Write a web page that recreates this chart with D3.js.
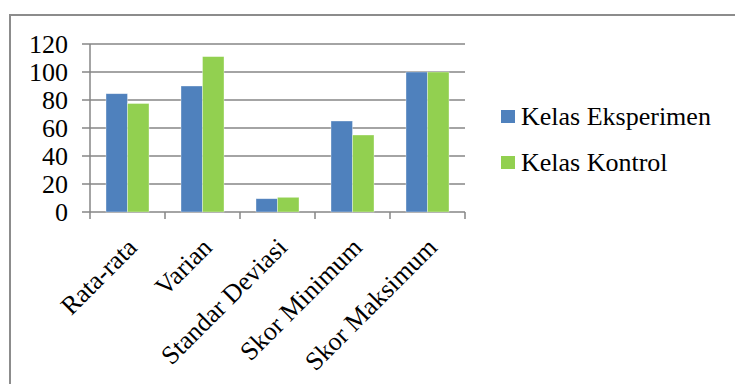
<!DOCTYPE html>
<html><head><meta charset="utf-8">
<script src="https://cdn.jsdelivr.net/npm/d3@7"></script>
</head><body style="margin:0">
<svg id="c" width="735" height="384"></svg>
<script>
const categories = ["Rata-rata","Varian","Standar Deviasi","Skor Minimum","Skor Maksimum"];
const seriesNames = ["Kelas Eksperimen","Kelas Kontrol"];
const eksperimen = [84.5, 90, 9.5, 65, 100];
const kontrol = [77.5, 111, 10.5, 55, 100];
const yTicks = [0,20,40,60,80,100,120];
const colors = ["#4F81BD","#92D050"];

const FAM = "'Liberation Serif', 'Times New Roman', serif";
const FS = 26;
const cv = document.createElement("canvas").getContext("2d");
cv.font = FS + "px 'Liberation Serif'";
cv.measureText(categories.join(" ") + seriesNames.join(" ") + "0123456789");

const svg = d3.select("#c");
function styleText(sel){
  return sel.attr("font-family",FAM).attr("font-size",FS).attr("fill","#000")
    .style("font-family",FAM).style("font-size",FS+"px");
}
// outer frame
svg.append("rect").attr("x",10).attr("y",15).attr("width",735).attr("height",400)
  .attr("fill","none").attr("stroke","#8c8c8c").attr("stroke-width",2);

const pL=90, pR=465, pT=44, pB=212;
const x = d3.scaleBand().domain(categories).range([pL,pR]);
const y = d3.scaleLinear().domain([0,120]).range([pB,pT]);

// gridlines
svg.append("g").selectAll("line").data(yTicks).join("line")
  .attr("x1",pL-8).attr("x2",pR).attr("y1",d=>y(d)).attr("y2",d=>y(d))
  .attr("stroke","#868686").attr("stroke-width",1.5);
// y axis line
svg.append("line").attr("x1",pL).attr("x2",pL).attr("y1",pT).attr("y2",pB)
  .attr("stroke","#868686").attr("stroke-width",1.5);
// y labels
styleText(svg.append("g").selectAll("text").data(yTicks).join("text")
  .attr("x",68).attr("y",d=>y(d)+9).attr("text-anchor","end")).text(d=>d);
// x ticks
const tickX = categories.map(c=>x(c)).concat([pR]);
svg.append("g").selectAll("line").data(tickX).join("line")
  .attr("x1",d=>d).attr("x2",d=>d).attr("y1",pB).attr("y2",pB+7)
  .attr("stroke","#868686").attr("stroke-width",1.5);

// bars
const bw = 21.5;
[eksperimen, kontrol].forEach((vals,si)=>{
  svg.append("g").selectAll("rect").data(vals).join("rect")
    .attr("x",(d,i)=>x(categories[i])+x.bandwidth()/2 - bw + si*bw)
    .attr("y",d=>y(d)).attr("width",bw).attr("height",d=>pB-y(d))
    .attr("fill",colors[si]).attr("stroke","rgba(255,255,255,0.5)").attr("stroke-width",0.7);
});

// x labels
styleText(svg.append("g").selectAll("text").data(categories).join("text")
  .attr("transform",d=>`translate(${x(d)+x.bandwidth()/2+11},${pB+37}) rotate(-45)`)
  .attr("text-anchor","end")).text(d=>d);

// legend
seriesNames.forEach((n,i)=>{
  const ly = 110 + i*46;
  svg.append("rect").attr("x",501).attr("y",ly).attr("width",14).attr("height",13).attr("fill",colors[i]);
  styleText(svg.append("text").attr("x",521).attr("y",ly+15)).text(n);
});
</script>
</body></html>
